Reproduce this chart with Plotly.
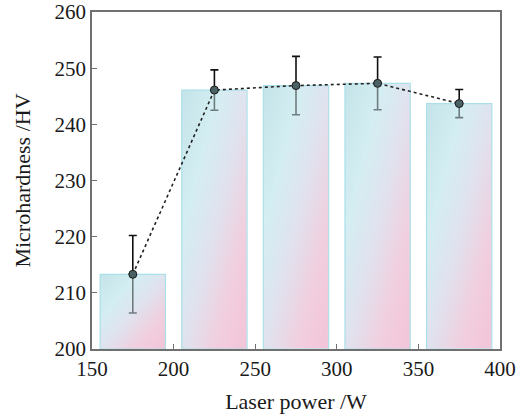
import numpy as np
import plotly.graph_objects as go

# ---- data ----
laser_power = [175, 225, 275, 325, 375]          # W (bar centres)
microhardness = [213.3, 246.1, 246.9, 247.3, 243.7]  # HV
error_hv = [6.9, 3.6, 5.2, 4.7, 2.5]               # HV (±)
x_ticks = [150, 200, 250, 300, 350, 400]
y_ticks = [200, 210, 220, 230, 240, 250, 260]

BAR_W = 40
BASE = 200
FONT = "Liberation Serif, Times New Roman, serif"

# diagonal gradient colour ramp (top-left cyan -> bottom-right pink)
GRAD = [[0.0, "rgb(196,228,233)"],
        [0.28, "rgb(212,238,242)"],
        [0.5, "rgb(224,227,239)"],
        [0.75, "rgb(241,207,223)"],
        [1.0, "rgb(243,195,215)"]]
NX, NY = 10, 30

fig = go.Figure()

# gradient fill of each bar (heatmap clipped to the bar rectangle)
for c, v in zip(laser_power, microhardness):
    xe = np.linspace(c - BAR_W / 2, c + BAR_W / 2, NX + 1)
    ye = np.linspace(BASE, v, NY + 1)
    u = (np.arange(NX) + 0.5) / NX
    d = 1 - (np.arange(NY) + 0.5) / NY      # depth from top (row 0 = bottom)
    z = (u[None, :] + d[:, None]) / 2
    fig.add_trace(go.Heatmap(
        x=xe, y=ye, z=z, zmin=0, zmax=1, colorscale=GRAD,
        zsmooth="best", showscale=False, hoverinfo="skip",
    ))

# bar outlines
fig.add_trace(go.Bar(
    x=laser_power, y=[v - BASE for v in microhardness], base=BASE,
    width=BAR_W, marker=dict(color="rgba(0,0,0,0)",
                             line=dict(color="rgb(170,224,232)", width=1.2)),
    showlegend=False, hoverinfo="skip",
))

# error bars: part above the bar top is black, part inside the bar is greyed
fig.add_trace(go.Scatter(
    x=laser_power, y=microhardness, mode="markers",
    marker=dict(size=1, color="rgba(0,0,0,0)"),
    error_y=dict(type="data", symmetric=False, array=[0] * len(error_hv),
                 arrayminus=error_hv, color="rgb(110,124,126)",
                 thickness=1.6, width=4),
    showlegend=False, hoverinfo="skip",
))
fig.add_trace(go.Scatter(
    x=laser_power, y=microhardness, mode="markers",
    marker=dict(size=1, color="rgba(0,0,0,0)"),
    error_y=dict(type="data", symmetric=False, array=error_hv,
                 arrayminus=[0] * len(error_hv), color="#111",
                 thickness=1.6, width=4),
    showlegend=False, hoverinfo="skip",
))

# dotted connecting line + markers
fig.add_trace(go.Scatter(
    x=laser_power, y=microhardness,
    mode="lines+markers",
    line=dict(color="#222", width=1.6, dash="dot"),
    marker=dict(size=8, color="#4b6264", line=dict(color="#1a1a1a", width=1)),
    showlegend=False, hoverinfo="x+y",
))

axis_common = dict(
    showline=True, linecolor="#707070", linewidth=1.5, mirror=True,
    ticks="inside", ticklen=5, tickwidth=1.2, tickcolor="#707070",
    showgrid=False, zeroline=False, automargin=False,
    tickfont=dict(family=FONT, size=21, color="#1a1a1a"),
)

fig.update_layout(
    width=524, height=417,
    margin=dict(l=92, r=24, t=12, b=68),
    paper_bgcolor="white", plot_bgcolor="white",
    xaxis=dict(range=[150, 400], tickvals=x_ticks,
               title=dict(text="Laser power /W", standoff=14,
                          font=dict(family=FONT, size=22, color="#1a1a1a")),
               **axis_common),
    yaxis=dict(range=[200, 260], tickvals=y_ticks,
               title=dict(text="Microhardness /HV", standoff=18,
                          font=dict(family=FONT, size=22, color="#1a1a1a")),
               **axis_common),
)

fig.write_html("out.html")
